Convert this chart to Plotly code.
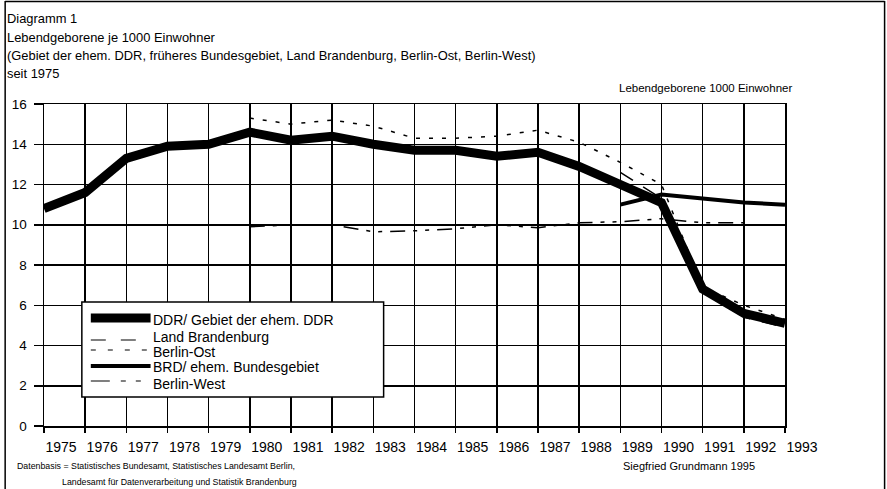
import plotly.graph_objects as go

# ---------------- data ----------------
years = list(range(1975, 1994))
year_labels = [str(y) for y in years]

ddr = [10.8, 11.6, 13.3, 13.9, 14.0, 14.6, 14.2, 14.4, 14.0, 13.7,
       13.7, 13.4, 13.6, 12.9, 12.0, 11.1, 6.8, 5.6, 5.1]
brandenburg = [None] * 14 + [12.6, 11.3, 6.9, 5.4, 4.9]
berlin_ost = [None] * 5 + [15.3, 15.0, 15.2, 14.9, 14.3, 14.3, 14.4, 14.7,
                           14.1, 13.1, 12.0, 6.9, 6.0, 5.3]
brd = [None] * 14 + [11.0, 11.5, 11.3, 11.1, 11.0]
berlin_west = [None] * 5 + [9.9, 10.0, 10.0, 9.65, 9.7, 9.8, 10.0, 9.85,
                            10.1, 10.15, 10.3, 10.1, 10.1, None]

y_ticks = [0, 2, 4, 6, 8, 10, 12, 14, 16]

series_names = ["DDR/ Gebiet der ehem. DDR", "Land Brandenburg", "Berlin-Ost",
                "BRD/ ehem. Bundesgebiet", "Berlin-West"]

title_lines = ["Diagramm 1",
               "Lebendgeborene je 1000 Einwohner",
               "(Gebiet der ehem. DDR, früheres Bundesgebiet, Land Brandenburg, Berlin-Ost, Berlin-West)",
               "seit 1975"]
unit_label = "Lebendgeborene 1000 Einwohner"
source_lines = ["Datenbasis = Statistisches Bundesamt, Statistisches Landesamt Berlin,",
                "Landesamt für Datenverarbeitung und Statistik Brandenburg"]
author = "Siegfried Grundmann 1995"

# ---------------- layout geometry (pixels) ----------------
W, H = 887, 489
L, R, T, B = 41, 785, 104, 426
PW, PH = R - L, B - T
FONT = "Liberation Sans, Arial, sans-serif"


def xp(px):
    return (px - L) / PW


def yp(py):
    return (B - py) / PH


trace_lines = [
    dict(color="black", width=9),
    dict(color="black", width=1.5, dash="15px,12px"),
    dict(color="black", width=1.5, dash="4px,9px"),
    dict(color="black", width=4),
    dict(color="black", width=1.5, dash="15px,8px,4px,8px,4px,8px"),
]
legend_lines = [
    dict(color="black", width=9),
    dict(color="black", width=1.2, dash="15px,15px"),
    dict(color="black", width=1.2, dash="5px,12px"),
    dict(color="black", width=4),
    dict(color="black", width=1.2, dash="19px,11px,5px,10px,5px,10px"),
]
legend_text_y = [320, 337, 352, 367, 384]
legend_line_y = [318, 340, 350, 366, 381]
title_y = [18, 37, 55.5, 73]

fig = go.Figure()
for name, vals, line in zip(series_names, [ddr, brandenburg, berlin_ost, brd, berlin_west],
                            trace_lines):
    fig.add_trace(go.Scatter(x=years, y=vals, name=name, mode="lines",
                             line=line, connectgaps=False, hoverinfo="skip",
                             showlegend=False))

annotations = []
for txt, ty in zip(title_lines, title_y):
    annotations.append(dict(xref="paper", yref="paper", x=xp(2), y=yp(ty),
                            xanchor="left", yanchor="middle", align="left",
                            text=txt, showarrow=False,
                            font=dict(family=FONT, size=12.9, color="black")))
annotations.append(dict(xref="paper", yref="paper", x=xp(705), y=yp(88),
                        xanchor="center", yanchor="middle",
                        text=unit_label, showarrow=False,
                        font=dict(family=FONT, size=11.5, color="black")))
annotations.append(dict(xref="paper", yref="paper", x=xp(12), y=yp(466),
                        xanchor="left", yanchor="middle",
                        text=source_lines[0], showarrow=False,
                        font=dict(family=FONT, size=8.8, color="black")))
annotations.append(dict(xref="paper", yref="paper", x=xp(57), y=yp(482),
                        xanchor="left", yanchor="middle",
                        text=source_lines[1], showarrow=False,
                        font=dict(family=FONT, size=8.8, color="black")))
annotations.append(dict(xref="paper", yref="paper", x=xp(620), y=yp(466),
                        xanchor="left", yanchor="middle",
                        text=author, showarrow=False,
                        font=dict(family=FONT, size=11, color="black")))
for name, ty in zip(series_names, legend_text_y):
    annotations.append(dict(xref="paper", yref="paper", x=xp(148), y=yp(ty),
                            xanchor="left", yanchor="middle",
                            text=name, showarrow=False,
                            font=dict(family=FONT, size=14, color="black")))

shapes = [
    # outer frame (left, top, right)
    dict(type="line", xref="paper", yref="paper", x0=xp(2), x1=xp(2), y0=yp(1), y1=yp(500),
         line=dict(color="black", width=1.5)),
    dict(type="line", xref="paper", yref="paper", x0=xp(2), x1=xp(885), y0=yp(1.5), y1=yp(1.5),
         line=dict(color="black", width=1.5)),
    dict(type="line", xref="paper", yref="paper", x0=xp(885), x1=xp(885), y0=yp(1), y1=yp(500),
         line=dict(color="black", width=1.5)),
    # legend box
    dict(type="rect", xref="paper", yref="paper", x0=xp(79), x1=xp(382), y0=yp(302), y1=yp(397),
         line=dict(color="black", width=1.5), fillcolor="white", layer="above"),
]
for line, ly in zip(legend_lines, legend_line_y):
    shapes.append(dict(type="line", xref="paper", yref="paper", x0=xp(88), x1=xp(148),
                       y0=yp(ly), y1=yp(ly), line=line, layer="above"))

fig.update_layout(
    width=W, height=H,
    margin=dict(l=L, r=W - R, t=T, b=H - B, pad=0),
    paper_bgcolor="white", plot_bgcolor="white",
    font=dict(family=FONT, color="black", size=13),
    showlegend=False,
    annotations=annotations,
    shapes=shapes,
    xaxis=dict(range=[1975, 1993], tickvals=years, ticktext=year_labels,
               showgrid=True, gridcolor="black", gridwidth=1.5,
               ticks="outside", ticklen=5, tickcolor="black", tickwidth=1.5,
               showline=True, linecolor="black", linewidth=1.5, mirror=True,
               zeroline=False, ticklabelshift=17, ticklabelstandoff=3,
               tickfont=dict(family=FONT, size=14, color="black")),
    yaxis=dict(range=[0, 16], tickvals=y_ticks, ticktext=[str(v) for v in y_ticks],
               showgrid=True, gridcolor="black", gridwidth=1.5,
               ticks="outside", ticklen=9, tickcolor="black", tickwidth=1.5,
               showline=True, linecolor="black", linewidth=1.5, mirror=True,
               zeroline=False, ticklabelstandoff=4,
               tickfont=dict(family=FONT, size=13.5, color="black")),
    yaxis2=dict(range=[0, 16], overlaying="y", side="right", tickvals=y_ticks,
                ticktext=[("\u2007" + str(v)) if v < 10 else str(v) for v in y_ticks],
                showgrid=False, zeroline=False, showline=False, ticks="",
                ticklabelstandoff=6,
                tickfont=dict(family=FONT, size=13.5, color="black")),
)

fig.write_html("out.html", config={"displayModeBar": False, "staticPlot": True},
               post_script="document.body.style.margin='0';")
